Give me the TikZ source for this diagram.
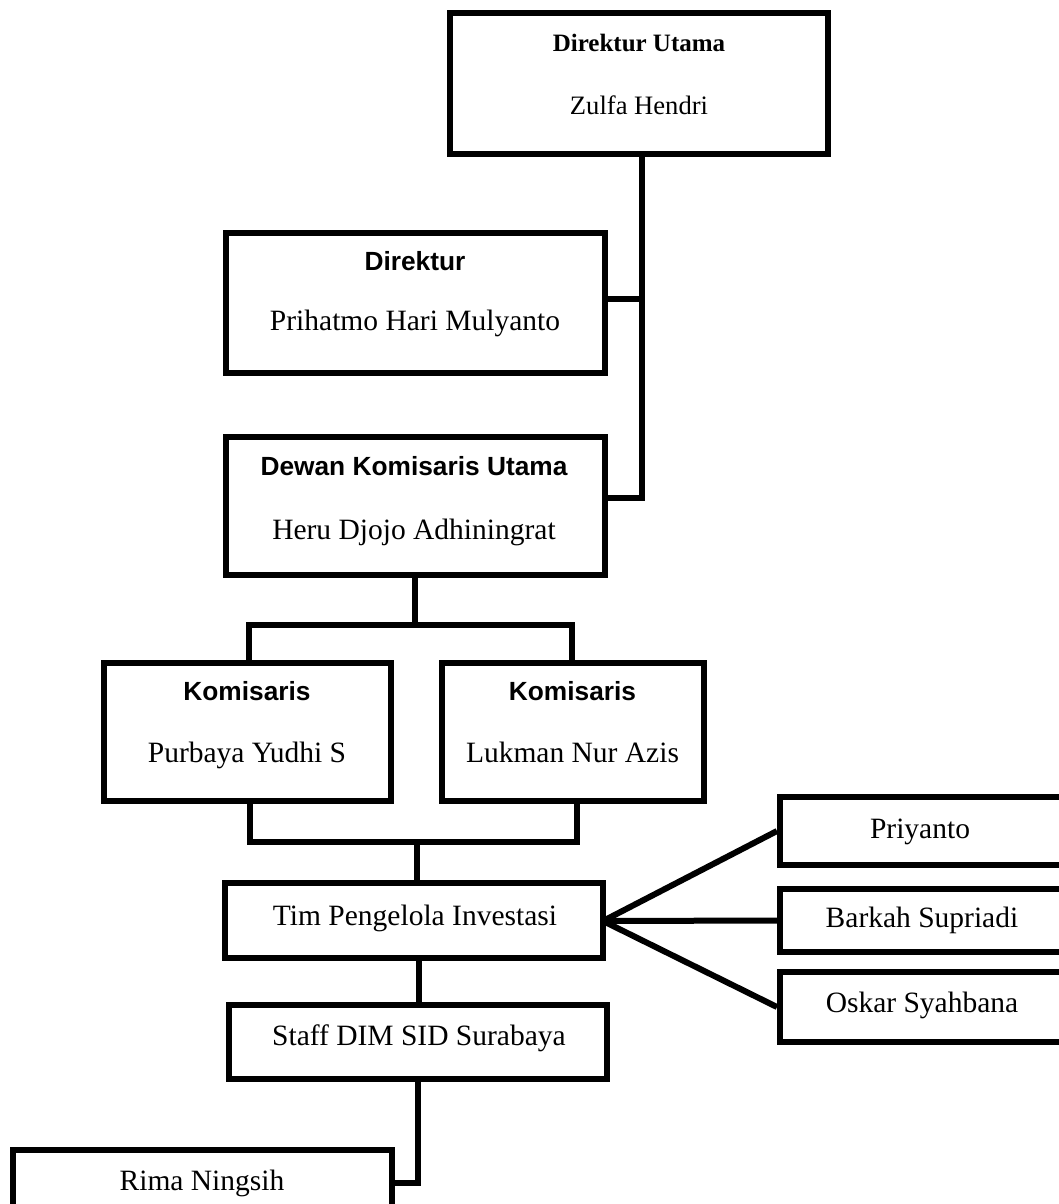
\documentclass[tikz,border=0pt]{standalone}
\usepackage{fontspec}
\setmainfont{Liberation Serif}
\newfontfamily\sansfam{Liberation Sans}
\begin{document}
\begin{tikzpicture}[x=1pt,y=-1pt,
  box/.style={draw, line width=6pt, rectangle, inner sep=0pt},
  conn/.style={draw, line width=6pt},
  nm/.style={font=\fontsize{29.5}{34}\selectfont, anchor=base, inner sep=0pt},
  ttl/.style={font=\sansfam\bfseries\fontsize{26.3}{30}\selectfont, anchor=base, inner sep=0pt},
  ttlserif/.style={font=\bfseries\fontsize{25}{30}\selectfont, anchor=base, inner sep=0pt},
  nmsmall/.style={font=\fontsize{26.6}{30}\selectfont, anchor=base, inner sep=0pt}]
\useasboundingbox (0,0) rectangle (1059,1204);
\clip (0,0) rectangle (1059,1204);
\fill[white] (0,0) rectangle (1059,1204);

% boxes
\node[box, minimum width=378pt, minimum height=141pt] (du) at (639,83.5) {};
\node[box, minimum width=379pt, minimum height=140pt] (dir) at (415.5,303) {};
\node[box, minimum width=379pt, minimum height=138pt] (dkU) at (415.5,506) {};
\node[box, minimum width=287pt, minimum height=138pt] (kom1) at (247.5,732) {};
\node[box, minimum width=262pt, minimum height=138pt] (kom2) at (573,732) {};
\node[box, minimum width=378pt, minimum height=75pt] (tim) at (414,920.5) {};
\node[box, minimum width=378pt, minimum height=74pt] (staff) at (418,1042) {};
\node[box, minimum width=283pt, minimum height=68pt] (pri) at (921.5,831) {};
\node[box, minimum width=283pt, minimum height=63pt] (bar) at (921.5,920.5) {};
\node[box, minimum width=283pt, minimum height=70pt] (osk) at (921.5,1007) {};
\node[box, minimum width=379pt, minimum height=65pt] (rima) at (202.5,1182.5) {};

% texts
\node[ttlserif] (t1) at (639,52) {Direktur Utama};
\node[nmsmall] (t2) at (639,115) {Zulfa Hendri};
\node[ttl] (t3) at (415,270) {Direktur};
\node[nm] (t4) at (415,330) {Prihatmo Hari Mulyanto};
\node[ttl] (t5) at (414,475) {Dewan Komisaris Utama};
\node[nm] (t6) at (414,539) {Heru Djojo Adhiningrat};
\node[ttl] (t7) at (247,700) {Komisaris};
\node[nm] (t8) at (247,762) {Purbaya Yudhi S};
\node[ttl] (t9) at (572.5,700) {Komisaris};
\node[nm] (t10) at (572.5,762) {Lukman Nur Azis};
\node[nm] (t11) at (415,925) {Tim Pengelola Investasi};
\node[nm] (t12) at (419,1045) {Staff DIM SID Surabaya};
\node[nm] (t13) at (920,838) {Priyanto};
\node[nm] (t14) at (922,927) {Barkah Supriadi};
\node[nm] (t15) at (922,1012) {Oskar Syahbana};
\node[nm] (t16) at (202,1190) {Rima Ningsih};

% connectors
\coordinate (duB) at (642,154);
\coordinate (j1) at (642,299);
\coordinate (j2) at (642,498);
\draw[conn] (duB) -- (j2) -- (dkU.east |- j2);
\draw[conn] (j1) -- (dir.east |- j1);

\coordinate (c1) at (415,625);
\draw[conn] (dkU.south -| c1) -- (c1);
\draw[conn] (kom1.north -| 249,0) -- (249,625) -- (572,625) -- (kom2.north -| 572,0);

\coordinate (c2) at (417,842);
\draw[conn] (kom1.south -| 250,0) -- (250,842) -- (577,842) -- (kom2.south -| 577,0);
\draw[conn] (c2) -- (tim.north -| c2);

\draw[conn] (tim.south -| 419,0) -- (staff.north -| 419,0);

\coordinate (fan) at (603,921);
\draw[conn] (fan) -- (pri.west);
\draw[conn] (fan) -- (bar.west);
\draw[conn] (fan) -- (osk.west);

\coordinate (c3) at (418,1183);
\draw[conn] (staff.south -| c3) -- (c3) -- (rima.east |- c3);
\end{tikzpicture}
\end{document}
